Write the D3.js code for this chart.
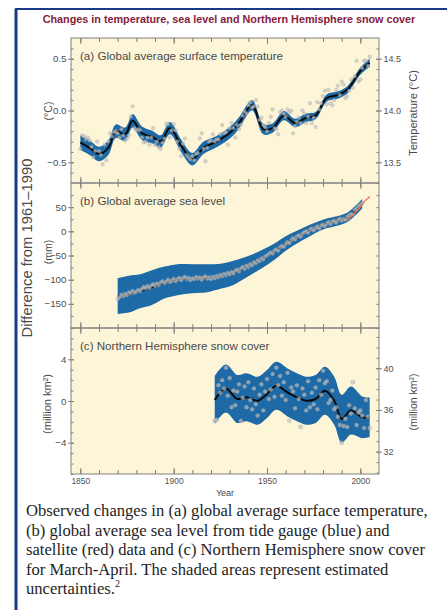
<!DOCTYPE html>
<html>
<head>
<meta charset="utf-8">
<script src="https://cdn.jsdelivr.net/npm/d3@7"></script>
<style>
  body { margin: 0; background: #ffffff; }
</style>
</head>
<body>
<div id="canvas"></div>
<script>
"use strict"

/* ---- data ---- */

/* (a) temperature anomaly, deg C, one value per year from 1850 */
let tempStart = 1850;
let tempAnnual = [
  -0.37, -0.24, -0.25, -0.28, -0.26, -0.29, -0.35, -0.45, -0.39, -0.30,
  -0.39, -0.43, -0.52, -0.33, -0.48, -0.30, -0.22, -0.25, -0.21, -0.20,
  -0.22, -0.26, -0.18, -0.24, -0.29, -0.27, -0.24, -0.06, 0.04, -0.17,
  -0.19, -0.18, -0.19, -0.26, -0.31, -0.30, -0.26, -0.33, -0.26, -0.17,
  -0.33, -0.30, -0.35, -0.37, -0.31, -0.27, -0.13, -0.13, -0.26, -0.19,
  -0.13, -0.19, -0.30, -0.37, -0.44, -0.32, -0.27, -0.43, -0.45, -0.47,
  -0.44, -0.48, -0.42, -0.41, -0.27, -0.22, -0.37, -0.49, -0.36, -0.30,
  -0.29, -0.23, -0.30, -0.28, -0.28, -0.23, -0.14, -0.22, -0.21, -0.33,
  -0.17, -0.12, -0.17, -0.26, -0.14, -0.18, -0.14, -0.05, -0.01, -0.03,
  0.05, 0.08, 0.03, 0.04, 0.10, 0.04, -0.09, -0.07, -0.14, -0.16,
  -0.20, -0.12, -0.06, 0.01, -0.17, -0.18, -0.23, -0.02, 0.00, -0.03,
  -0.06, 0.01, -0.02, 0.00, -0.22, -0.15, -0.11, -0.07, -0.12, 0.00,
  -0.03, -0.12, -0.06, 0.07, -0.12, -0.07, -0.16, 0.08, 0.01, 0.07,
  0.14, 0.19, 0.06, 0.20, 0.07, 0.05, 0.10, 0.20, 0.24, 0.15,
  0.28, 0.25, 0.12, 0.14, 0.19, 0.30, 0.22, 0.33, 0.48, 0.28,
  0.30, 0.41, 0.48, 0.48, 0.43, 0.52
];
let tempSmoothYears = [1850, 1855, 1860, 1865, 1869, 1874, 1878, 1883, 1889, 1893,
  1898, 1904, 1910, 1916, 1923, 1931, 1935, 1942, 1948, 1953,
  1959, 1965, 1971, 1976, 1982, 1988, 1993, 2000, 2005];
let tempSmooth = [-0.31, -0.36, -0.42, -0.36, -0.20, -0.23, -0.10, -0.22, -0.26, -0.30,
  -0.17, -0.34, -0.47, -0.36, -0.30, -0.20, -0.12, 0.05, -0.18, -0.17,
  -0.05, -0.12, -0.07, -0.05, 0.12, 0.15, 0.20, 0.38, 0.46];
let tempHalfWidth = [0.07, 0.07, 0.07, 0.07, 0.065, 0.065, 0.065, 0.065, 0.06, 0.06,
  0.06, 0.06, 0.06, 0.06, 0.055, 0.055, 0.055, 0.05, 0.05, 0.045,
  0.045, 0.04, 0.04, 0.035, 0.035, 0.035, 0.035, 0.035, 0.04];

/* (b) sea level, mm, tide gauge one value per year from 1870 */
let seaStart = 1870;
let seaAnnual = [
  -140, -136, -131, -134, -129, -132, -126, -128, -123, -127,
  -125, -121, -124, -119, -115, -118, -113, -117, -112, -109,
  -113, -108, -111, -106, -103, -107, -104, -100, -105, -102,
  -98, -103, -99, -96, -101, -97, -94, -99, -96, -101,
  -97, -99, -94, -98, -95, -100, -96, -93, -98, -95,
  -99, -94, -97, -92, -95, -90, -93, -88, -91, -86,
  -89, -84, -87, -82, -79, -83, -77, -74, -78, -71,
  -74, -68, -70, -64, -66, -60, -62, -56, -58, -52,
  -50, -47, -44, -46, -40, -37, -40, -33, -30, -32,
  -26, -22, -24, -18, -14, -17, -11, -8, -11, -5,
  -2, 0, -3, 3, 6, 2, 7, 10, 6, 12,
  14, 11, 16, 19, 15, 20, 22, 18, 23, 26,
  22, 26, 24, 30, 33, 36, 35, 44, 47, 52,
  55, 58
];
let seaSmoothYears = [1870, 1876, 1882, 1888, 1895, 1902, 1910, 1918, 1925, 1932, 1940, 1947, 1954, 1960, 1966, 1972, 1980, 1986, 1992, 1996, 2001];
let seaSmooth = [-134, -130, -124, -117, -106, -100, -98, -97, -93, -86, -72, -58, -42, -25, -12, 0, 14, 20, 27, 38, 57];
let seaHalfWidth = [37, 38, 35, 36, 33, 32, 30, 29, 26, 25, 21, 19, 17, 15, 13, 12, 10, 10, 10, 10, 10];
/* satellite record (red) */
let satYears = [1993, 1994, 1995, 1996, 1997, 1998, 1999, 2000, 2001, 2002, 2003, 2004, 2005];
let satValues = [22, 26, 30, 33, 38, 42, 45, 50, 55, 61, 65, 68, 72];

/* (c) NH snow cover, million km2, one value per year from 1922 */
let snowStart = 1922;
let snowAnnual = [
  -1.9, -1.8, 1.5, 0.8, 2.0, 1.2, 3.2, 0.5, 2.2, -0.6,
  1.0, -0.4, 0.9, 1.6, -1.9, 0.3, 1.4, -0.6, 1.8, 0.1,
  -0.8, 1.2, -0.3, -1.4, 0.6, 1.6, -0.9, 0.9, 2.1, 0.2,
  1.1, 2.6, 0.4, 3.2, 1.5, 2.4, 0.5, 1.8, 0.1, 2.7,
  -1.9, 1.3, 0.9, -0.7, 1.5, 0.2, -2.5, 1.2, 0.6, -0.9,
  1.9, -0.6, 0.8, -0.3, 1.3, -0.8, 2.0, 0.6, 2.9, 1.7,
  1.9, -0.2, 0.1, 1.0, -0.8, -0.6, -1.5, -2.3, -4.0, -2.4,
  -1.7, -2.5, -0.4, -1.2, 1.8, -0.7, -2.3, -1.1, -0.9, -1.4,
  -2.6, 0.1, -1.5, -2.6
];
let snowSmoothYears = [1922, 1928, 1934, 1939, 1945, 1950, 1955, 1961, 1966, 1971, 1976, 1981, 1986, 1990, 1995, 2001, 2005];
let snowSmooth = [0.1, 1.2, 0.2, 0.35, 0.03, 0.67, 1.46, 0.82, 0.35, 0.03, 0.19, 0.98, 0.03, -1.71, -0.92, -1.56, -1.56];
let snowHalfWidth = [2.3, 2.3, 2.3, 2.3, 2.3, 2.3, 2.3, 2.3, 2.3, 2.3, 2.3, 2.3, 2.3, 2.3, 2.3, 2.0, 1.9];

/* tick labels */
let yearLabels = [1850, 1900, 1950, 2000];
let tempTicks = [-0.5, 0.0, 0.5];
let tempAbsTicks = [13.5, 14.0, 14.5];
let seaTicks = [-150, -100, -50, 0, 50];
let snowTicks = [-4, 0, 4];
let snowAbsTicks = [32, 36, 40];

let caption = [
  "Observed changes in (a) global average surface temperature,",
  "(b) global average sea level from tide gauge (blue) and",
  "satellite (red) data and (c) Northern Hemisphere snow cover",
  "for March-April. The shaded areas represent estimated"
];

/* ---- drawing ---- */
let sans = "Liberation Sans, Arial, sans-serif";
let serif = "Liberation Serif, Times New Roman, serif";

let drawing = d3.select("#canvas")
  .append("svg")
  .attr("width", 447)
  .attr("height", 610)
  .style("font-family", sans);

/* dark blue frame on the left and top */
drawing.append("line")
  .attr("x1", 16).attr("y1", 9).attr("x2", 16).attr("y2", 610)
  .attr("stroke", "#1b3a86").attr("stroke-width", 3);
drawing.append("line")
  .attr("x1", 15).attr("y1", 9).attr("x2", 447).attr("y2", 9)
  .attr("stroke", "#1b3a86").attr("stroke-width", 2);

/* title */
drawing.append("text")
  .attr("x", 229).attr("y", 23)
  .attr("text-anchor", "middle")
  .attr("font-size", 10.8).attr("font-weight", "bold")
  .attr("fill", "#86203f")
  .text("Changes in temperature, sea level and Northern Hemisphere snow cover");

let plotLeft = 71, plotRight = 379;
let x = d3.scaleLinear().domain([1845, 2010]).range([plotLeft, plotRight]);

let yTemp = d3.scaleLinear().domain([-0.7, 0.7]).range([183, 38]);
let yTempAbs = d3.scaleLinear().domain([13.3, 14.7]).range([183, 38]);
let ySea = d3.scaleLinear().domain([-200, 100]).range([328, 183]);
let ySnow = d3.scaleLinear().domain([-7, 7]).range([474, 328]);
let ySnowAbs = d3.scaleLinear().domain([29.86, 43.86]).range([474, 328]);

let cream = "#fcf5d7";
let band = "#1d6aa6";
let tickGrey = "#808080";
let labelGrey = "#505050";

/* panel backgrounds */
[yTemp, ySea, ySnow].forEach(function (s) {
  drawing.append("rect")
    .attr("x", plotLeft).attr("y", s.range()[1])
    .attr("width", plotRight - plotLeft)
    .attr("height", s.range()[0] - s.range()[1])
    .attr("fill", cream);
});

function years(start, values) {
  return values.map(function (v, i) { return { year: start + i, value: v }; });
}
function smoothRows(yrs, vals, hw) {
  return yrs.map(function (yr, i) { return { year: yr, value: vals[i], hw: hw[i] }; });
}

let curve = d3.curveCatmullRom.alpha(0.5);

function drawSeries(yScale, annual, smooth, lineWidth, radius) {
  let area = d3.area()
    .x(function (d) { return x(d.year); })
    .y0(function (d) { return yScale(d.value - d.hw); })
    .y1(function (d) { return yScale(d.value + d.hw); })
    .curve(curve);
  drawing.append("path")
    .datum(smooth)
    .attr("d", area)
    .attr("fill", band);

  let line = d3.line()
    .x(function (d) { return x(d.year); })
    .y(function (d) { return yScale(d.value); })
    .curve(curve);
  drawing.append("path")
    .datum(smooth)
    .attr("d", line)
    .attr("fill", "none")
    .attr("stroke", "#0a0a0a")
    .attr("stroke-width", lineWidth);

  drawing.append("g").selectAll("circle")
    .data(annual)
    .enter().append("circle")
    .attr("cx", function (d) { return x(d.year); })
    .attr("cy", function (d) { return yScale(d.value); })
    .attr("r", radius)
    .attr("fill", "#c4c4c4")
    .attr("fill-opacity", 0.65)
    .attr("stroke", "#9a9a9a")
    .attr("stroke-opacity", 0.7)
    .attr("stroke-width", 0.5);
}

drawSeries(yTemp, years(tempStart, tempAnnual), smoothRows(tempSmoothYears, tempSmooth, tempHalfWidth), 2, 1.7);
drawSeries(ySea, years(seaStart, seaAnnual), smoothRows(seaSmoothYears, seaSmooth, seaHalfWidth), 1.5, 1.8);

/* satellite line */
let satRows = satYears.map(function (yr, i) { return { year: yr, value: satValues[i] }; });
drawing.append("path")
  .datum(satRows)
  .attr("d", d3.line()
    .x(function (d) { return x(d.year); })
    .y(function (d) { return ySea(d.value); }))
  .attr("fill", "none")
  .attr("stroke", "#f07050")
  .attr("stroke-width", 1.2);

drawSeries(ySnow, years(snowStart, snowAnnual), smoothRows(snowSmoothYears, snowSmooth, snowHalfWidth), 2, 2);

/* panel borders */
[yTemp, ySea, ySnow].forEach(function (s) {
  drawing.append("rect")
    .attr("x", plotLeft).attr("y", s.range()[1])
    .attr("width", plotRight - plotLeft)
    .attr("height", s.range()[0] - s.range()[1])
    .attr("fill", "none")
    .attr("stroke", tickGrey)
    .attr("stroke-width", 1);
});

/* styling for axis groups */
function tidy(g, fontSize) {
  g.attr("font-family", sans);
  g.select(".domain").remove();
  g.selectAll("line").attr("stroke", tickGrey);
  g.selectAll("text").attr("fill", labelGrey).attr("font-size", fontSize);
}

/* year ticks on every panel edge, pointing inward */
let decades = d3.range(1850, 2010, 10);
let halfCenturies = d3.range(1850, 2010, 50);
[yTemp, ySea, ySnow].forEach(function (s) {
  [[s.range()[1], 1], [s.range()[0], -1]].forEach(function (edge) {
    drawing.append("g")
      .attr("transform", "translate(0," + edge[0] + ")")
      .call(d3.axisBottom(x).tickValues(decades).tickSize(4 * edge[1]).tickFormat(""))
      .call(tidy, 9);
    drawing.append("g")
      .attr("transform", "translate(0," + edge[0] + ")")
      .call(d3.axisBottom(x).tickValues(halfCenturies).tickSize(6 * edge[1]).tickFormat(""))
      .call(tidy, 9);
  });
});

/* year labels under panel c */
drawing.append("g")
  .attr("transform", "translate(0,474)")
  .call(d3.axisBottom(x).tickValues(yearLabels).tickSize(0).tickPadding(4).tickFormat(d3.format("d")))
  .call(tidy, 8.5);

/* vertical axes: labelled ticks cross the edge, minor ticks point inward */
function yAxis(scale, xPos, side, major, minorStep, fmt) {
  let d = scale.domain();
  let minor = d3.range(Math.ceil(d[0] / minorStep) * minorStep, d[1], minorStep);
  let inner = side < 0 ? d3.axisRight(scale) : d3.axisLeft(scale);
  drawing.append("g")
    .attr("transform", "translate(" + xPos + ",0)")
    .call(inner.tickValues(minor).tickSize(2.5).tickFormat(""))
    .call(tidy, 9);
  let outerAxis = side < 0 ? d3.axisLeft(scale) : d3.axisRight(scale);
  let innerMajor = side < 0 ? d3.axisRight(scale) : d3.axisLeft(scale);
  drawing.append("g")
    .attr("transform", "translate(" + xPos + ",0)")
    .call(innerMajor.tickValues(major).tickSize(3).tickFormat(""))
    .call(tidy, 9);
  drawing.append("g")
    .attr("transform", "translate(" + xPos + ",0)")
    .call(outerAxis.tickValues(major).tickSize(3).tickPadding(1.5).tickFormat(fmt))
    .call(tidy, side < 0 ? 9.8 : 9);
}

yAxis(yTemp, plotLeft, -1, tempTicks, 0.1, d3.format(".1f"));
yAxis(yTempAbs, plotRight, 1, tempAbsTicks, 0.1, d3.format(".1f"));
yAxis(ySea, plotLeft, -1, seaTicks, 25, d3.format("d"));
yAxis(ySea, plotRight, 1, [], 25, "");
yAxis(ySnow, plotLeft, -1, snowTicks, 1, d3.format("d"));
yAxis(ySnowAbs, plotRight, 1, snowAbsTicks, 1, d3.format("d"));

/* panel names */
let panelNames = ["(a) Global average surface temperature", "(b) Global average sea level", "(c) Northern Hemisphere snow cover"];
[yTemp, ySea, ySnow].forEach(function (s, i) {
  drawing.append("text")
    .attr("x", 80).attr("y", s.range()[1] + 22)
    .attr("font-size", 11.6).attr("fill", "#4a4a4a")
    .text(panelNames[i]);
});

/* rotated axis titles */
function vText(xPos, yPos, size, str) {
  return drawing.append("text")
    .attr("transform", "translate(" + xPos + "," + yPos + ") rotate(-90)")
    .attr("text-anchor", "middle")
    .attr("font-size", size)
    .attr("fill", "#4a4a4a")
    .text(str);
}
vText(32, 248, 14.8, "Difference from 1961\u20131990");
vText(52, 111, 10.5, "(\u00b0C)");
vText(52, 252, 10.5, "(mm)");
vText(51, 404, 11, "(million km\u00b2)");
vText(417, 113, 11.2, "Temperature (\u00b0C)");
vText(417, 402, 10.5, "(million km\u00b2)");

drawing.append("text")
  .attr("x", 225).attr("y", 496)
  .attr("text-anchor", "middle")
  .attr("font-size", 9).attr("fill", "#4a4a4a")
  .text("Year");

/* caption */
caption.forEach(function (line, i) {
  drawing.append("text")
    .attr("x", 26).attr("y", 516 + i * 19.5)
    .style("font-family", serif)
    .attr("font-size", 16.6).attr("fill", "#1e1e1e")
    .text(line);
});
let last = drawing.append("text")
  .attr("x", 26).attr("y", 516 + 4 * 19.5)
  .style("font-family", serif)
  .attr("font-size", 16.6).attr("fill", "#1e1e1e")
  .text("uncertainties.");
last.append("tspan")
  .attr("font-size", 10).attr("dy", -7)
  .text("2");
</script>
</body>
</html>
